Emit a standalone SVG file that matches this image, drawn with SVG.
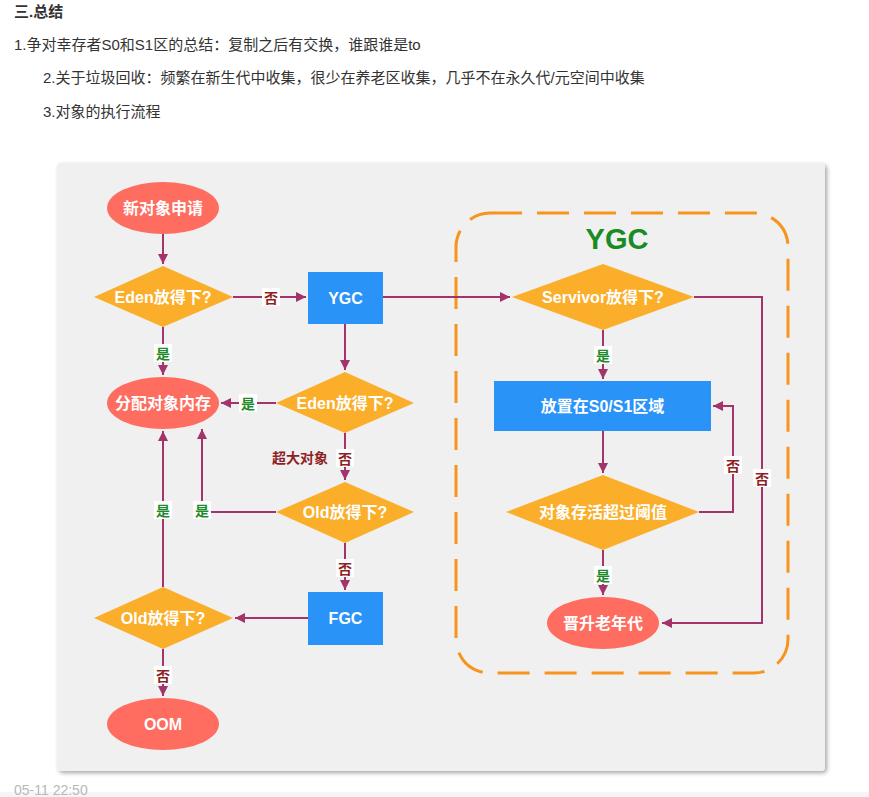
<svg xmlns="http://www.w3.org/2000/svg" width="869" height="797" viewBox="0 0 869 797">
<defs>
<style>
.hd{font-family:"Liberation Sans","Noto Sans CJK SC",sans-serif;font-size:15px;fill:#333}
.nt{font-family:"Liberation Sans","Noto Sans CJK SC",sans-serif;font-size:16px;font-weight:bold;fill:#fff;text-anchor:middle;dominant-baseline:central}
.ell{fill:#fe6d5f}
.dia{fill:#fbae2a}
.box{fill:#2a93f7}
.ln{fill:none;stroke:#a3336b;stroke-width:2}
.lb{font-family:"Noto Sans CJK SC",sans-serif;font-size:14px;font-weight:bold;text-anchor:middle;dominant-baseline:central}
.no{fill:#8e1f24}
.yes{fill:#1f8a2c}
.bg{fill:#fff}
</style>
<marker id="ah" viewBox="0 0 10 10" refX="10" refY="5" markerWidth="5" markerHeight="5" orient="auto" markerUnits="strokeWidth">
<path d="M0,0 L10,5 L0,10 z" fill="#a3336b"/>
</marker>
<filter id="sh" x="-5%" y="-5%" width="110%" height="110%">
<feDropShadow dx="2" dy="2" stdDeviation="2" flood-color="#000" flood-opacity="0.35"/>
</filter>
</defs>
<rect width="869" height="797" fill="#fff"/>
<g id="header">
<text class="hd" x="14" y="17" font-weight="bold">三.总结</text>
<text class="hd" x="14" y="50">1.争对幸存者S0和S1区的总结：复制之后有交换，谁跟谁是to</text>
<text class="hd" x="43" y="83">2.关于垃圾回收：频繁在新生代中收集，很少在养老区收集，几乎不在永久代/元空间中收集</text>
<text class="hd" x="43" y="117">3.对象的执行流程</text>
</g>
<rect x="57" y="163" width="768" height="608" rx="4" fill="#f0f0f0" filter="url(#sh)"/>
<g id="ygc-region">
<rect x="456" y="213" width="332" height="460" rx="34" fill="none" stroke="#f7941d" stroke-width="3" stroke-dasharray="32 15"/>
<text x="617" y="249" font-family="Liberation Sans,sans-serif" font-size="29" font-weight="bold" fill="#1a8a22" text-anchor="middle">YGC</text>
</g>
<g id="connectors">
<path class="ln" d="M163,234 V264" marker-end="url(#ah)"/>
<path class="ln" d="M233,297 H306" marker-end="url(#ah)"/>
<path class="ln" d="M163,327 V375" marker-end="url(#ah)"/>
<path class="ln" d="M345,324 V370" marker-end="url(#ah)"/>
<path class="ln" d="M276,403 H221" marker-end="url(#ah)"/>
<path class="ln" d="M345,433 V480" marker-end="url(#ah)"/>
<path class="ln" d="M276,512 H202 V429" marker-end="url(#ah)"/>
<path class="ln" d="M345,543 V590" marker-end="url(#ah)"/>
<path class="ln" d="M308,618 H235" marker-end="url(#ah)"/>
<path class="ln" d="M163,587 V431" marker-end="url(#ah)"/>
<path class="ln" d="M163,649 V696" marker-end="url(#ah)"/>
<path class="ln" d="M383,297 H510" marker-end="url(#ah)"/>
<path class="ln" d="M694,297 H762 V623 H662" marker-end="url(#ah)"/>
<path class="ln" d="M603,330 V379" marker-end="url(#ah)"/>
<path class="ln" d="M603,431 V473" marker-end="url(#ah)"/>
<path class="ln" d="M699,512 H733 V406 H713" marker-end="url(#ah)"/>
<path class="ln" d="M603,550 V595" marker-end="url(#ah)"/>
<g id="labels">
<rect class="bg" x="262" y="288" width="18" height="18"/><text class="lb no" x="271" y="297">否</text>
<rect class="bg" x="154" y="344" width="18" height="18"/><text class="lb yes" x="163" y="353">是</text>
<rect class="bg" x="239" y="394" width="18" height="18"/><text class="lb yes" x="248" y="403">是</text>
<text class="lb no" x="300" y="457" font-size="15">超大对象</text>
<rect class="bg" x="336" y="449" width="18" height="18"/><text class="lb no" x="345" y="458">否</text>
<rect class="bg" x="193" y="501" width="18" height="18"/><text class="lb yes" x="202" y="510">是</text>
<rect class="bg" x="154" y="501" width="18" height="18"/><text class="lb yes" x="163" y="510">是</text>
<rect class="bg" x="336" y="559" width="18" height="18"/><text class="lb no" x="345" y="568">否</text>
<rect class="bg" x="154" y="666" width="18" height="18"/><text class="lb no" x="163" y="675">否</text>
<rect class="bg" x="594" y="346" width="18" height="18"/><text class="lb yes" x="603" y="355">是</text>
<rect class="bg" x="724" y="456" width="18" height="18"/><text class="lb no" x="733" y="465">否</text>
<rect class="bg" x="753" y="469" width="18" height="18"/><text class="lb no" x="762" y="478">否</text>
<rect class="bg" x="594" y="566" width="18" height="18"/><text class="lb yes" x="603" y="575">是</text>
</g>
</g>
<g id="n-new"><ellipse class="ell" cx="163" cy="208" rx="56" ry="26"/><text class="nt" x="163" y="208">新对象申请</text></g>
<g id="n-eden1"><polygon class="dia" points="163,266 233,297 163,327 94,297"/><text class="nt" x="163" y="297">Eden放得下?</text></g>
<g id="n-ygc"><rect class="box" x="308" y="272" width="75" height="52"/><text class="nt" x="345.5" y="298">YGC</text></g>
<g id="n-alloc"><ellipse class="ell" cx="163" cy="403" rx="56" ry="26"/><text class="nt" x="163" y="403">分配对象内存</text></g>
<g id="n-eden2"><polygon class="dia" points="345,372 414,403 345,433 276,403"/><text class="nt" x="345" y="403">Eden放得下?</text></g>
<g id="n-old1"><polygon class="dia" points="345,482 414,512 345,543 276,512"/><text class="nt" x="345" y="512">Old放得下?</text></g>
<g id="n-fgc"><rect class="box" x="308" y="592" width="75" height="53"/><text class="nt" x="345.5" y="618">FGC</text></g>
<g id="n-old2"><polygon class="dia" points="163,587 233,618 163,649 94,618"/><text class="nt" x="163" y="618">Old放得下?</text></g>
<g id="n-oom"><ellipse class="ell" cx="163" cy="724" rx="56" ry="26"/><text class="nt" x="163" y="724">OOM</text></g>
<g id="n-survivor"><polygon class="dia" points="603,264 694,297 603,330 512,297"/><text class="nt" x="603" y="297">Servivor放得下?</text></g>
<g id="n-s0s1"><rect class="box" x="494" y="381" width="217" height="50"/><text class="nt" x="602.5" y="406">放置在S0/S1区域</text></g>
<g id="n-threshold"><polygon class="dia" points="603,475 699,512 603,550 506,512"/><text class="nt" x="603" y="512">对象存活超过阈值</text></g>
<g id="n-promote"><ellipse class="ell" cx="603" cy="623" rx="56" ry="26"/><text class="nt" x="603" y="623">晋升老年代</text></g>
<rect x="0" y="792" width="869" height="5" fill="#f5f5f5"/>
<text x="14" y="795" font-family="Liberation Sans,sans-serif" font-size="14" fill="#b8b8b8">05-11 22:50</text>
</svg>
